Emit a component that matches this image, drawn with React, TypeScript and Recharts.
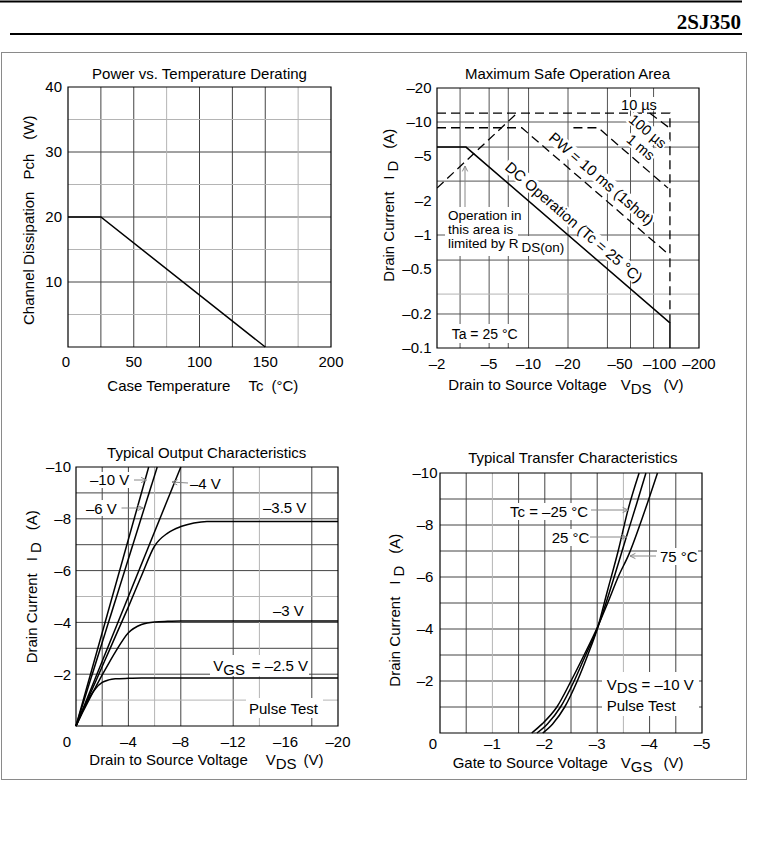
import React from "react";
import { LineChart, Line, XAxis, YAxis, CartesianGrid, ReferenceArea } from "recharts";

const PAGE_W = 781;
const PAGE_H = 847;
const SANS = '"Liberation Sans", Arial, Helvetica, sans-serif';
const SERIF = '"Liberation Serif", "Times New Roman", serif';
const DARK = "#444";
const LIGHT = "#b4b4b4";
const ARROW = "#888";
const Y_W = 60;
const X_H = 40;

// Power vs. Temperature Derating
const deratingTc = [0, 25, 150];
const deratingPch = [20, 20, 0];

// Maximum Safe Operation Area (magnitudes: |VDS| in V, |ID| in A)
const rdsVds = [2, 8.3];
const rdsId = [2.6, 12.2];
const pulseVds = [2, 120, 120];
const pulseId = [12, 12, 0.167];
const us100Vds = [84, 120];
const us100Id = [12, 8.8];
const ms1Vds = [22, 34, 116];
const ms1Id = [8.9, 8.9, 2.6];
const ms10Vds = [2, 8.87, 118];
const ms10Id = [8.9, 8.9, 0.67];
const dcVds = [2, 3.33, 120, 120];
const dcId = [6, 6, 0.167, 0.1];

// Typical Output Characteristics
const outVds = [0, -0.5, -1, -1.5, -2, -2.5, -3, -4, -5, -6, -7, -8, -9, -10, -12, -20];
const outId35 = [0, -0.58, -1.15, -1.72, -2.3, -2.87, -3.45, -4.6, -5.8, -6.95, -7.45, -7.7, -7.84, -7.9, -7.9, -7.9];
const outId30 = [0, -0.52, -1.02, -1.5, -1.97, -2.42, -2.85, -3.6, -3.92, -4.02, -4.04, -4.05, -4.05, -4.05, -4.05, -4.05];
const outId25 = [0, -0.6, -1.08, -1.45, -1.68, -1.78, -1.82, -1.84, -1.85, -1.85, -1.85, -1.85, -1.85, -1.85, -1.85, -1.85];
const linVds10 = [0, -5.55];
const linVds6 = [0, -6.2];
const linVds4 = [0, -8.0];
const linId = [0, -10];

// Typical Transfer Characteristics
const vgsM25 = [-1.96, -2.15, -2.38, -2.62, -2.82, -3.0, -3.2, -3.4, -3.59, -3.8];
const idM25 = [0, -0.35, -1.0, -2.0, -3.0, -4.0, -5.5, -7.0, -8.6, -10];
const vgs25 = [-1.85, -2.05, -2.3, -2.56, -2.78, -3.0, -3.2, -3.4, -3.55, -3.75, -3.93];
const id25 = [0, -0.35, -1.0, -2.0, -3.0, -4.0, -5.2, -6.5, -7.5, -8.8, -10];
const vgs75 = [-1.75, -1.95, -2.23, -2.5, -2.75, -3.0, -3.2, -3.4, -3.61, -3.9, -4.15];
const id75 = [0, -0.35, -1.0, -2.0, -3.0, -4.05, -5.0, -6.0, -6.9, -8.5, -10];

type Pt = { x: number; y: number };
const zip = (xs: number[], ys: number[]): Pt[] => xs.map((x, i) => ({ x, y: ys[i] }));

type Plot = { x: number; y: number; w: number; h: number };
const PLOT_PWR: Plot = { x: 68, y: 87, w: 263, h: 260 };
const PLOT_SOA: Plot = { x: 437, y: 88, w: 262, h: 260 };
const PLOT_OUT: Plot = { x: 76, y: 467, w: 262, h: 259 };
const PLOT_TR: Plot = { x: 440, y: 473, w: 262, h: 260 };

const margins = (p: Plot) => ({
  top: p.y,
  left: p.x - Y_W,
  right: PAGE_W - p.x - p.w,
  bottom: PAGE_H - p.y - p.h - X_H,
});

const plain = (v: number) => String(v);
const neg = (v: number) => (v === 0 ? "0" : "\u2013" + Math.abs(v));

function makeTick(side: "x" | "y", fmt: (v: number) => string, anchor?: string, zeroDx = 0) {
  return (p: any) => {
    const v = p.payload.value;
    return (
      <text
        x={p.x + (v === 0 ? zeroDx : 0)}
        y={p.y}
        dy={side === "x" ? "0.71em" : "0.36em"}
        textAnchor={anchor ?? (side === "x" ? "middle" : "end")}
        fontFamily={SANS}
        fontSize={15}
        fill="#000"
      >
        {fmt(v)}
      </text>
    );
  };
}

const abs: React.CSSProperties = { position: "absolute", left: 0, top: 0 };
const curve = { stroke: "#000", strokeWidth: 1.5, dot: false, activeDot: false, isAnimationActive: false } as const;
const dashed = { ...curve, strokeWidth: 1.3, strokeDasharray: "9 5" } as const;

function Derating() {
  return (
    <div style={abs}>
      <LineChart width={PAGE_W} height={PAGE_H} margin={margins(PLOT_PWR)}>
        <CartesianGrid verticalValues={[25, 50, 100, 125, 150]} horizontalValues={[10, 20, 30]} stroke={DARK} />
        <CartesianGrid verticalValues={[75, 175]} horizontalValues={[5, 15, 25, 35]} stroke={LIGHT} />
        <XAxis type="number" dataKey="x" domain={[0, 200]} ticks={[0, 50, 100, 150, 200]} height={X_H}
          axisLine={false} tickLine={false} tickSize={0} tickMargin={9} tick={makeTick("x", plain, undefined, -2)} />
        <YAxis type="number" dataKey="y" domain={[0, 40]} ticks={[10, 20, 30, 40]} width={Y_W}
          axisLine={false} tickLine={false} tickSize={0} tickMargin={6} tick={makeTick("y", plain)} />
        <ReferenceArea x1={0} x2={200} y1={0} y2={40} fill="none" stroke="#000" strokeWidth={1.2} />
        <Line data={zip(deratingTc, deratingPch)} dataKey="y" type="linear" {...curve} />
      </LineChart>
    </div>
  );
}

function SafeArea() {
  return (
    <div style={abs}>
      <LineChart width={PAGE_W} height={PAGE_H} margin={margins(PLOT_SOA)}>
        <CartesianGrid
          verticalValues={[3, 4, 5, 6, 7, 8, 9, 10, 20, 30, 40, 50, 60, 70, 80, 90]}
          horizontalValues={[0.2, 0.4, 0.5, 0.6, 0.7, 0.8, 0.9, 1, 2, 3, 4, 5, 6, 7, 8, 9, 10]}
          stroke="#555"
        />
        <CartesianGrid horizontalValues={[0.3]} verticalValues={[]} vertical={false} stroke={LIGHT} />
        <XAxis type="number" dataKey="x" scale="log" domain={[2, 200]} ticks={[2, 5, 10, 20, 50, 100, 200]}
          allowDataOverflow height={X_H} axisLine={false} tickLine={false} tickSize={0} tickMargin={10}
          tick={makeTick("x", neg)} />
        <YAxis type="number" dataKey="y" scale="log" domain={[0.1, 20]} ticks={[0.1, 0.2, 0.5, 1, 2, 5, 10, 20]}
          allowDataOverflow width={Y_W} axisLine={false} tickLine={false} tickSize={0} tickMargin={5.5}
          tick={makeTick("y", neg)} />
        <ReferenceArea x1={2} x2={200} y1={0.1} y2={20} fill="none" stroke="#000" strokeWidth={1.2} />
        <Line data={zip(rdsVds, rdsId)} dataKey="y" type="linear" {...dashed} />
        <Line data={zip(pulseVds, pulseId)} dataKey="y" type="linear" {...dashed} />
        <Line data={zip(us100Vds, us100Id)} dataKey="y" type="linear" {...dashed} />
        <Line data={zip(ms1Vds, ms1Id)} dataKey="y" type="linear" {...dashed} />
        <Line data={zip(ms10Vds, ms10Id)} dataKey="y" type="linear" {...dashed} />
        <Line data={zip(dcVds, dcId)} dataKey="y" type="linear" {...curve} />
      </LineChart>
    </div>
  );
}

function Output() {
  return (
    <div style={abs}>
      <LineChart width={PAGE_W} height={PAGE_H} margin={margins(PLOT_OUT)}>
        <CartesianGrid verticalValues={[-2, -4, -8, -10, -12, -16, -18]}
          horizontalValues={[-2, -3, -4, -6, -7, -8, -9]} stroke={DARK} />
        <CartesianGrid verticalValues={[-6, -14]} horizontalValues={[-1, -5]} stroke={LIGHT} />
        <XAxis type="number" dataKey="x" domain={[-20, 0]} reversed ticks={[0, -4, -8, -12, -16, -20]}
          height={X_H} axisLine={false} tickLine={false} tickSize={0} tickMargin={10}
          tick={makeTick("x", neg, undefined, -9)} />
        <YAxis type="number" dataKey="y" domain={[-10, 0]} reversed ticks={[-10, -8, -6, -4, -2]}
          width={Y_W} axisLine={false} tickLine={false} tickSize={0} tickMargin={5}
          tick={makeTick("y", neg)} />
        <ReferenceArea x1={-20} x2={0} y1={-10} y2={0} fill="none" stroke="#000" strokeWidth={1.2} />
        <Line data={zip(linVds10, linId)} dataKey="y" type="linear" {...curve} />
        <Line data={zip(linVds6, linId)} dataKey="y" type="linear" {...curve} />
        <Line data={zip(linVds4, linId)} dataKey="y" type="linear" {...curve} />
        <Line data={zip(outVds, outId35)} dataKey="y" type="monotone" {...curve} />
        <Line data={zip(outVds, outId30)} dataKey="y" type="monotone" {...curve} />
        <Line data={zip(outVds, outId25)} dataKey="y" type="monotone" {...curve} />
      </LineChart>
    </div>
  );
}

function Transfer() {
  return (
    <div style={abs}>
      <LineChart width={PAGE_W} height={PAGE_H} margin={margins(PLOT_TR)}>
        <CartesianGrid verticalValues={[-0.5, -1.5, -2, -2.5, -3, -4, -4.5]}
          horizontalValues={[-1, -2, -3, -4, -5, -6, -7, -8, -9]} stroke={DARK} />
        <CartesianGrid verticalValues={[-1, -3.5]} horizontal={false} stroke={LIGHT} />
        <XAxis type="number" dataKey="x" domain={[-5, 0]} reversed ticks={[0, -1, -2, -3, -4, -5]}
          height={X_H} axisLine={false} tickLine={false} tickSize={0} tickMargin={5}
          tick={makeTick("x", neg, undefined, -7)} />
        <YAxis type="number" dataKey="y" domain={[-10, 0]} reversed ticks={[-10, -8, -6, -4, -2]}
          width={Y_W} axisLine={false} tickLine={false} tickSize={0} tickMargin={15}
          tick={makeTick("y", neg, "middle")} />
        <ReferenceArea x1={-5} x2={0} y1={-10} y2={0} fill="none" stroke="#000" strokeWidth={1.2} />
        <Line data={zip(vgsM25, idM25)} dataKey="y" type="monotone" {...curve} />
        <Line data={zip(vgs25, id25)} dataKey="y" type="monotone" {...curve} />
        <Line data={zip(vgs75, id75)} dataKey="y" type="monotone" {...curve} />
      </LineChart>
    </div>
  );
}

function Arrow({ x1, y1, x2, y2 }: { x1: number; y1: number; x2: number; y2: number }) {
  const a = Math.atan2(y2 - y1, x2 - x1);
  const s = 6;
  const p1 = [x2 - s * Math.cos(a - 0.45), y2 - s * Math.sin(a - 0.45)];
  const p2 = [x2 - s * Math.cos(a + 0.45), y2 - s * Math.sin(a + 0.45)];
  return (
    <g stroke={ARROW} strokeWidth={1} fill="none">
      <line x1={x1} y1={y1} x2={x2} y2={y2} />
      <polyline points={`${p1[0]},${p1[1]} ${x2},${y2} ${p2[0]},${p2[1]}`} />
    </g>
  );
}

function Bg({ x, y, w, h }: { x: number; y: number; w: number; h: number }) {
  return <rect x={x} y={y} width={w} height={h} fill="#fff" />;
}

function Tilted({ cx, cy, angle, w, size, children }: { cx: number; cy: number; angle: number; w: number; size: number; children: React.ReactNode }) {
  return (
    <g transform={`translate(${cx},${cy}) rotate(${angle})`}>
      <rect x={-w / 2} y={-size / 2} width={w} height={size} fill="#fff" />
      <text x={0} y={size * 0.36} textAnchor="middle" fontSize={size}>{children}</text>
    </g>
  );
}

function Overlay() {
  return (
    <svg width={PAGE_W} height={PAGE_H} style={{ ...abs, pointerEvents: "none" }} fontFamily={SANS} fontSize={15} fill="#000">
      {/* page header */}
      <line x1={0} y1={1.5} x2={742} y2={1.5} stroke="#000" strokeWidth={2} />
      <text x={741} y={29} textAnchor="end" fontFamily={SERIF} fontWeight="bold" fontSize={21}>2SJ350</text>
      <line x1={10} y1={34} x2={742} y2={34} stroke="#000" strokeWidth={2} />
      <rect x={1.5} y={52.5} width={745} height={727} fill="none" stroke="#8a8a8a" />

      {/* titles */}
      <text x={199.5} y={78.5} textAnchor="middle">Power vs. Temperature Derating</text>
      <text x={567.5} y={79} textAnchor="middle">Maximum Safe Operation Area</text>
      <text x={206.7} y={458} textAnchor="middle">Typical Output Characteristics</text>
      <text x={572.8} y={462.5} textAnchor="middle">Typical Transfer Characteristics</text>

      {/* axis labels */}
      <text transform="translate(34.3,325) rotate(-90)">
        Channel Dissipation<tspan dx={12}>Pch</tspan><tspan dx={14}>(W)</tspan>
      </text>
      <text x={107.3} y={391.4}>
        Case Temperature<tspan dx={18}>Tc</tspan><tspan dx={8}>(°C)</tspan>
      </text>

      <text transform="translate(394.3,281.7) rotate(-90)">
        Drain Current<tspan dx={12}>I</tspan><tspan dx={4} dy={4}>D</tspan><tspan dx={12} dy={-4}>(A)</tspan>
      </text>
      <text x={448.3} y={390.4}>
        Drain to Source Voltage<tspan dx={14}>V</tspan><tspan dy={4}>DS</tspan><tspan dx={12} dy={-4}>(V)</tspan>
      </text>

      <text transform="translate(37,663.3) rotate(-90)">
        Drain Current<tspan dx={12}>I</tspan><tspan dx={4} dy={4}>D</tspan><tspan dx={12} dy={-4}>(A)</tspan>
      </text>
      <text x={89.3} y={765.4}>
        Drain to Source Voltage<tspan dx={18}>V</tspan><tspan dy={4}>DS</tspan><tspan dx={7} dy={-4}>(V)</tspan>
      </text>

      <text transform="translate(399.7,686.7) rotate(-90)">
        Drain Current<tspan dx={12}>I</tspan><tspan dx={4} dy={4}>D</tspan><tspan dx={12} dy={-4}>(A)</tspan>
      </text>
      <text x={452.7} y={767.7}>
        Gate to Source Voltage<tspan dx={13}>V</tspan><tspan dy={4}>GS</tspan><tspan dx={11} dy={-4}>(V)</tspan>
      </text>

      {/* SOA annotations */}
      <Bg x={621} y={97} w={37} h={13.5} />
      <text x={639} y={110} textAnchor="middle" fontSize={14.5}>10 µs</text>
      <Tilted cx={648} cy={131} angle={40} w={46} size={14.5}>100 µs</Tilted>
      <Tilted cx={641} cy={147} angle={40} w={34} size={14.5}>1 ms</Tilted>
      <Tilted cx={601.5} cy={178.5} angle={40.8} w={136} size={15}>PW = 10 ms (1shot)</Tilted>
      <Tilted cx={574} cy={222} angle={40.8} w={180} size={15}>DC Operation (Tc = 25 °C)</Tilted>

      <Bg x={445} y={207} w={77} h={15} />
      <Bg x={445} y={222} w={73} h={14} />
      <Bg x={445} y={236} w={113} h={20} />
      <g fontSize={13.5}>
        <text x={448} y={220}>Operation in</text>
        <text x={448} y={234.3}>this area is</text>
        <text x={448} y={248.3}>
          limited by R<tspan dx={3} dy={4}>DS(on)</tspan>
        </text>
      </g>
      <Arrow x1={465} y1={207} x2={465} y2={166} />

      <Bg x={447} y={324} w={81} h={19} />
      <text x={451.7} y={338.5} fontSize={14}>Ta = 25 °C</text>

      {/* Output characteristics annotations */}
      <Bg x={88} y={472} w={45} h={16} />
      <text x={90} y={485.4}>–10 V</text>
      <Arrow x1={134} y1={480} x2={146.5} y2={480} />
      <Bg x={84} y={500} w={35} h={16} />
      <text x={86} y={513.7}>–6 V</text>
      <Arrow x1={121.5} y1={508} x2={143} y2={508} />
      <Bg x={188} y={475} w={35} h={16} />
      <text x={190} y={488.7}>–4 V</text>
      <Arrow x1={188} y1={483} x2={172} y2={482} />
      <Bg x={260} y={500} w={51} h={16} />
      <text x={263} y={513}>–3.5 V</text>
      <Bg x={270} y={603} w={38} h={16} />
      <text x={273} y={616.4}>–3 V</text>
      <Bg x={210} y={655} w={99} h={21} />
      <text x={213.3} y={670.7}>
        V<tspan dy={4}>GS</tspan><tspan dx={6.7} dy={-4}>= –2.5 V</tspan>
      </text>
      <Bg x={246} y={698} w={77} h={20} />
      <text x={249} y={713.7}>Pulse Test</text>

      {/* Transfer characteristics annotations */}
      <Bg x={507} y={503} w={86} h={17} />
      <text x={510} y={517}>Tc = –25 °C</text>
      <Arrow x1={591} y1={510} x2={628} y2={510} />
      <Bg x={549} y={529} w={42} h={17} />
      <text x={551.7} y={542.7}>25 °C</text>
      <Arrow x1={590} y1={537} x2={626.5} y2={537} />
      <Bg x={657} y={548} w={41} h={17} />
      <text x={660} y={562}>75 °C</text>
      <Arrow x1={656} y1={556} x2={630} y2={556} />
      <Bg x={602} y={672} w={97} h={44} />
      <text x={606.7} y={690}>
        V<tspan dy={3}>DS</tspan><tspan dx={4} dy={-3}>= –10 V</tspan>
      </text>
      <text x={606.7} y={711}>Pulse Test</text>
    </svg>
  );
}

export default function App() {
  return (
    <div style={{ position: "absolute", left: 0, top: 0, width: PAGE_W, height: PAGE_H, background: "#fff" }}>
      <Derating />
      <SafeArea />
      <Output />
      <Transfer />
      <Overlay />
    </div>
  );
}
